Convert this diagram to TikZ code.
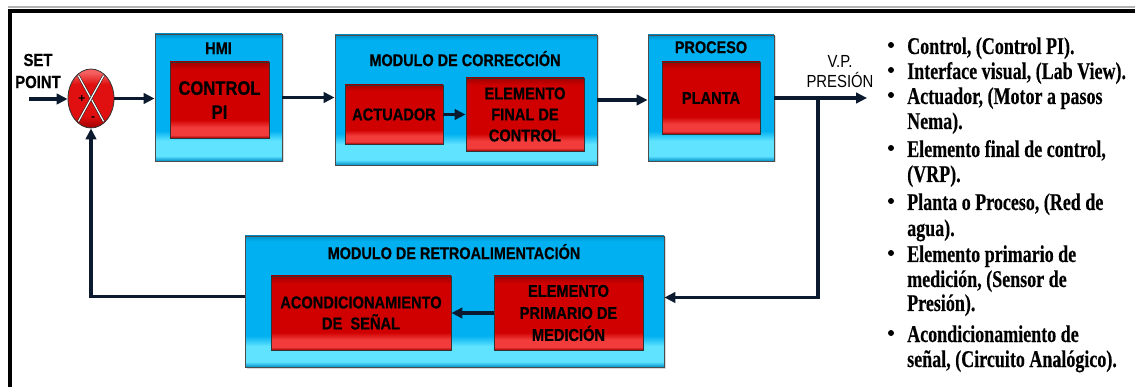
\documentclass[tikz,border=0pt]{standalone}
\usepackage{fontspec}
\setmainfont{Liberation Sans}
\newfontfamily\boxfont[FakeStretch=0.85, BoldFeatures={FakeBold=0.5}]{Liberation Sans}
\newfontfamily\listfont[FakeStretch=0.75, BoldFeatures={FakeBold=0.3}]{Liberation Serif}
\usetikzlibrary{arrows.meta,shadows,calc,shapes.geometric}
\definecolor{cyanbox}{HTML}{00B0F0}
\definecolor{cyanlight}{HTML}{5FE3FF}
\definecolor{cyanedge}{HTML}{0090C8}
\definecolor{redbox}{HTML}{D00000}
\definecolor{redlight}{HTML}{F23C3C}
\definecolor{reddark}{HTML}{A00000}
\definecolor{sumred}{HTML}{E01010}
\definecolor{sumlight}{HTML}{F46060}
\definecolor{wire}{HTML}{0B1A2E}
\pgfdeclareverticalshading{cyanshade}{100bp}{color(0bp)=(cyanedge); color(25bp)=(cyanedge); color(27bp)=(cyanlight); color(33bp)=(cyanlight); color(37bp)=(cyanbox); color(73bp)=(cyanbox); color(75bp)=(cyanedge); color(100bp)=(cyanedge)}
\pgfdeclareverticalshading{redshade}{100bp}{color(0bp)=(reddark); color(25bp)=(reddark); color(27bp)=(redlight); color(32bp)=(redlight); color(37bp)=(redbox); color(70bp)=(redbox); color(75bp)=(reddark); color(100bp)=(reddark)}
\pgfdeclareverticalshading{sumshade}{100bp}{color(0bp)=(reddark); color(25bp)=(reddark); color(35bp)=(sumred); color(62bp)=(sumred); color(72bp)=(sumlight); color(75bp)=(sumlight); color(100bp)=(sumlight)}
\begin{document}
\begin{tikzpicture}[x=1pt,y=-1pt,
  module/.style={draw=black!70, line width=0.9pt, shading=cyanshade,
    drop shadow={shadow xshift=1.5pt,shadow yshift=-1.5pt,opacity=0.3}, inner sep=0pt},
  block/.style={draw=black!80, line width=0.9pt, shading=redshade, inner sep=0pt, align=center,
    font=\boxfont\bfseries\fontsize{17.2}{21}\selectfont},
  title/.style={font=\boxfont\bfseries\fontsize{17}{20}\selectfont, inner sep=0pt, text height=12.2pt, text depth=0pt},
  wire/.style={draw=wire, line width=3.2pt, line join=miter},
  arr/.style={wire, -{Triangle[length=11pt,width=10.5pt]}},
  item/.style={anchor=base west, inner sep=0pt, font=\listfont\bfseries\fontsize{24}{25}\selectfont},
  bul/.style={circle, fill=black, inner sep=0pt, minimum size=6pt},
  xline/.style={draw=black!85, double=white, double distance=1.2pt, line width=0.6pt},
]
\useasboundingbox (0,0) rectangle (1135,387);
% frame
\draw[black!30, line width=1.2pt] (8,7) -- (1135,7);
\draw[line width=4pt, line join=miter] (9.5,387) -- (9.5,11) -- (1135,11);

% blocks
\node[module, minimum width=127pt, minimum height=127pt] (hmi) at (218.5,97.5) {};
\node[title] (hmit) at (218.5,48) {HMI};
\node[block, minimum width=99pt, minimum height=76pt, font=\boxfont\bfseries\fontsize{19.5}{24}\selectfont] (pi) at (219.5,100) {CONTROL\\PI};

\node[module, minimum width=262pt, minimum height=130pt] (mc) at (466,100) {};
\node[title] (mct) at (465,60) {MODULO DE CORRECCIÓN};
\node[block, minimum width=98pt, minimum height=59pt] (act) at (394,114.5) {ACTUADOR};
\node[block, minimum width=118pt, minimum height=73pt] (efc) at (525,114.5) {ELEMENTO\\FINAL DE\\CONTROL};

\node[module, minimum width=126pt, minimum height=126pt] (proc) at (711,98) {};
\node[title] (proct) at (711,47) {PROCESO};
\node[block, minimum width=98pt, minimum height=72pt] (pla) at (711,98) {PLANTA};

\node[module, minimum width=419pt, minimum height=131pt] (fb) at (454.5,301.5) {};
\node[title] (fbt) at (454,253) {MODULO DE RETROALIMENTACIÓN};
\node[block, minimum width=180pt, minimum height=74pt] (acond) at (361,313) {ACONDICIONAMIENTO\\DE\ \ SEÑAL};
\node[block, minimum width=149pt, minimum height=74pt, font=\boxfont\bfseries\fontsize{17.2}{22}\selectfont] (epm) at (568.5,313) {ELEMENTO\\PRIMARIO DE\\MEDICIÓN};

% summing junction
\node[ellipse, draw=black!80, line width=0.8pt, minimum width=46pt, minimum height=59pt, inner sep=0pt,
  shading=sumshade] (sum) at (91,98.5) {};
\draw[xline] ($(sum.center)+(125:22pt and 28pt)$) -- ($(sum.center)+(-55:22pt and 28pt)$);
\draw[xline] ($(sum.center)+(55:22pt and 28pt)$) -- ($(sum.center)+(235:22pt and 28pt)$);
\node[font=\bfseries\fontsize{12}{12}\selectfont, inner sep=0pt] (plus) at (82,99) {+};
\node[font=\bfseries\fontsize{12}{12}\selectfont, inner sep=0pt] (minus) at (93,119) {-};

% labels
\node[font=\boxfont\bfseries\fontsize{17.5}{22}\selectfont, align=center, inner sep=0pt] (sp) at (38,71) {SET\\POINT};
\node[font=\boxfont\fontsize{17.5}{20}\selectfont, align=center, inner sep=0pt] (vp) at (840,72) {V.P.\\PRESIÓN};

% connectors
\coordinate (spin) at (29,99);
\coordinate (out) at (867,98);
\coordinate (branch) at (818,98);
\draw[arr] (spin) -- (spin -| sum.west);
\draw[arr] (sum.east) -- (sum.east -| hmi.west);
\draw[arr] (hmi.east) -- (hmi.east -| mc.west);
\draw[arr] (act.east) -- (efc.west);
\draw[arr] (mc.east) -- (mc.east -| proc.west);
\draw[arr] (proc.east) -- (out);
\draw[arr] (branch) |- ([yshift=4pt]fb.east);
\draw[arr] (epm.west) -- (acond.east);
\draw[arr] ([yshift=5pt]fb.west) -| (sum.south);

% list
\node[bul] (b1) at (891,45) {};
\node[item] (l1) at (907,54) {Control, (Control PI).};
\node[bul] (b2) at (891,70) {};
\node[item] (l2) at (907,79) {Interface visual, (Lab View).};
\node[bul] (b3) at (891,95) {};
\node[item] (l3) at (907,104) {Actuador, (Motor a pasos};
\node[item] (l4) at (907,129) {Nema).};
\node[bul] (b4) at (891,148) {};
\node[item] (l5) at (907,157) {Elemento final de control,};
\node[item] (l6) at (907,182) {(VRP).};
\node[bul] (b5) at (891,201) {};
\node[item] (l7) at (907,210) {Planta o Proceso, (Red de};
\node[item] (l8) at (907,236) {agua).};
\node[bul] (b6) at (891,253) {};
\node[item] (l9) at (907,262) {Elemento primario de};
\node[item] (l10) at (907,287) {medición, (Sensor de};
\node[item] (l11) at (907,311) {Presión).};
\node[bul] (b7) at (891,333) {};
\node[item] (l12) at (907,342) {Acondicionamiento de};
\node[item] (l13) at (907,367) {señal, (Circuito Analógico).};
\end{tikzpicture}
\end{document}
